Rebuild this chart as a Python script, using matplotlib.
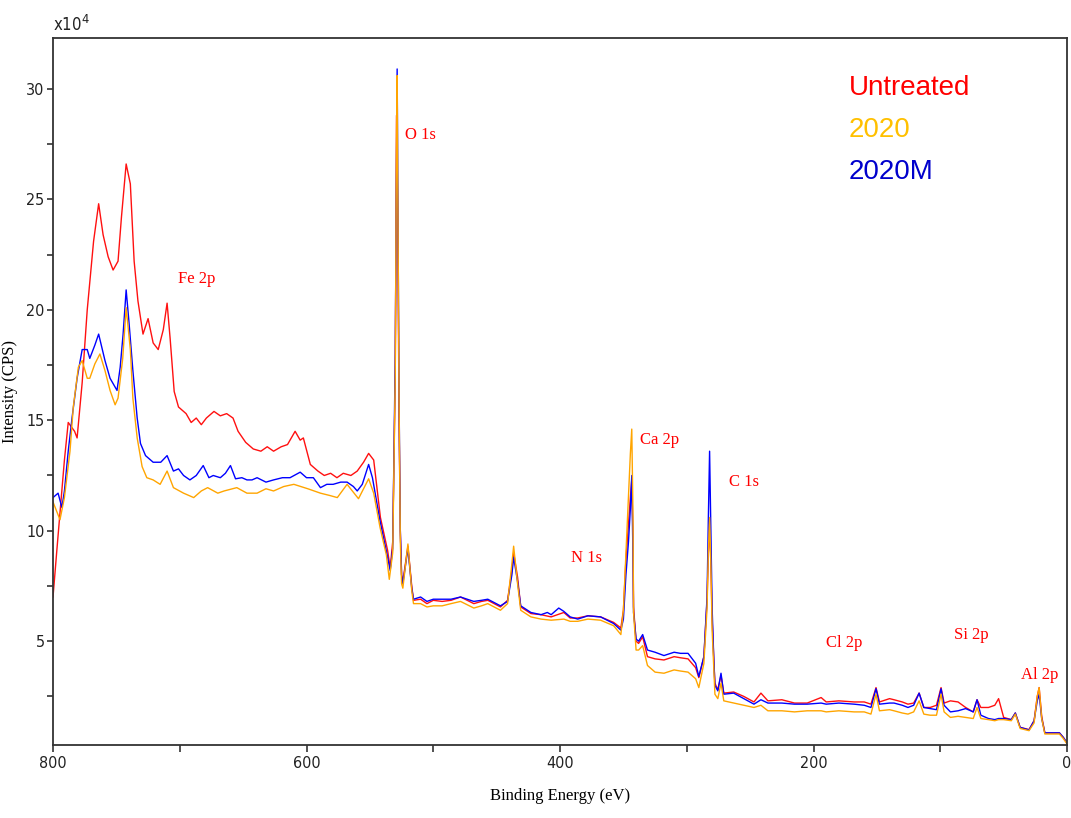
import matplotlib
matplotlib.use("Agg")
import matplotlib.pyplot as plt
from matplotlib.ticker import MultipleLocator

# XPS survey spectra, intensity in units of 1e4 CPS
be_untreated = [800, 797, 791, 788, 783, 781, 777, 773, 768, 764, 760.5, 756.5, 752.6, 748.7, 746,
                742.3, 739, 736, 733, 729, 725, 721, 717, 713, 710, 707.6, 704.4, 701, 695, 691,
                687, 683, 679, 673, 668, 663, 658, 654, 648, 642, 636, 631, 626, 620, 615, 609,
                605, 602.5, 597, 591, 586, 581, 576, 571, 565, 560, 555, 551, 547, 541.7, 536,
                534, 532, 530, 529, 528, 527, 526, 525, 524, 520, 517, 515.6, 510, 505, 500, 493,
                486, 478.5, 468, 462, 457, 447, 441.4, 438, 436.6, 433.5, 431, 423, 415, 407, 397,
                392, 386, 378, 368, 357.7, 352, 350, 348, 346, 344.5, 343.4, 342.5, 342, 340, 338,
                334.8, 331, 325, 318, 310, 305, 299, 293, 290.5, 286.5, 284, 283, 282, 281, 280,
                278.7, 277.8, 275.5, 273, 270.8, 263, 255, 247, 241.5, 236, 225, 215, 205, 194,
                190, 180, 168, 160, 154.7, 150.7, 148, 140, 136.5, 130, 125.5, 121, 116.7, 113,
                108, 103, 99.4, 97, 92, 86, 80, 74, 71, 68, 62, 57, 54, 50, 44, 40.8, 37, 30, 26,
                23.5, 22, 20, 17.5, 6, 3, 0]
cps_untreated = [7.0, 9.1, 13.2, 14.9, 14.5, 14.2, 16.7, 20.0, 23.1, 24.8, 23.4, 22.4, 21.8, 22.2, 24.2,
                 26.6, 25.7, 22.2, 20.4, 18.9, 19.6, 18.5, 18.2, 19.1, 20.3, 18.7, 16.3, 15.6, 15.3, 14.9,
                 15.1, 14.8, 15.1, 15.4, 15.2, 15.3, 15.1, 14.5, 14.0, 13.7, 13.6, 13.8, 13.6, 13.8, 13.9, 14.5,
                 14.1, 14.2, 13.0, 12.7, 12.5, 12.6, 12.4, 12.6, 12.5, 12.7, 13.1, 13.5, 13.2, 10.6, 9.1,
                 8.3, 9.5, 17.0, 28.8, 24.0, 15.0, 10.0, 8.0, 7.7, 9.3, 7.5, 6.85, 6.9, 6.7, 6.85, 6.8,
                 6.85, 7.0, 6.7, 6.8, 6.85, 6.55, 6.85, 8.2, 9.0, 7.9, 6.55, 6.25, 6.2, 6.1, 6.3,
                 6.05, 6.05, 6.15, 6.1, 5.85, 5.6, 6.4, 8.7, 10.3, 11.5, 12.3, 10.0, 6.55, 5.0, 4.9,
                 5.2, 4.3, 4.2, 4.15, 4.3, 4.25, 4.2, 3.8, 3.35, 4.3, 6.85, 9.0, 10.2, 8.5, 6.0,
                 4.2, 3.1, 2.8, 3.45, 2.65, 2.7, 2.5, 2.25, 2.65, 2.3, 2.35, 2.2, 2.2, 2.45,
                 2.25, 2.3, 2.25, 2.25, 2.15, 2.9, 2.25, 2.4, 2.35, 2.25, 2.15, 2.2, 2.65, 2.0,
                 2.0, 2.1, 2.9, 2.2, 2.3, 2.25, 2.0, 1.8, 2.35, 2.0, 2.0, 2.1, 2.4, 1.55, 1.45, 1.75, 1.1, 1.0, 1.4,
                 2.5, 2.9, 1.6, 0.85, 0.85, 0.65, 0.4]

be_2020m = [800, 796, 793, 791, 788, 785, 781, 777, 773, 771, 767, 764, 759, 755, 749.5, 747, 744.7,
            742.3, 740, 737, 733.6, 731, 727, 721, 715, 710, 705, 701, 697, 692, 687, 681.5, 677,
            673.6, 668, 664, 660, 656, 651, 647, 643, 639, 632, 626, 619, 613, 605, 600, 594.6,
            589, 584, 579, 573, 568, 563, 560, 556, 551, 548, 542, 536, 534, 532, 530, 529, 528.5,
            528, 527, 526, 525, 524, 520, 517, 515.6, 510, 505, 500, 493, 486, 478.5, 468, 462,
            457, 447, 441.4, 438, 436.6, 433.5, 431, 423, 415, 410, 407, 401, 397, 392, 386, 378,
            368, 357.7, 352, 350, 348, 346, 344.5, 343.4, 342.5, 342, 340, 338, 334.8, 331, 325,
            318, 310, 305, 299, 293, 290.5, 286.5, 284, 283, 282, 281, 280, 278.7, 277.8, 275.5,
            273, 270.8, 263, 255, 247, 241.5, 236, 225, 215, 205, 194, 190, 180, 168, 160, 154.7,
            150.7, 148, 140, 136.5, 130, 125.5, 121, 116.7, 113, 108, 103, 99.4, 97, 92, 86, 80,
            74, 71, 68, 62, 57, 54, 50, 44, 40.8, 37, 30, 26, 23.5, 22, 20, 17.5, 6, 3, 0]
cps_2020m = [11.5, 11.7, 11.05, 11.8, 13.6, 15.1, 16.9, 18.2, 18.2, 17.8, 18.4, 18.9, 17.7, 16.9, 16.35, 17.4, 18.9,
             20.9, 19.4, 17.25, 15.1, 13.95, 13.4, 13.1, 13.1, 13.4, 12.7, 12.8, 12.5, 12.3, 12.5, 12.95, 12.4,
             12.5, 12.4, 12.6, 12.95, 12.35, 12.4, 12.3, 12.3, 12.4, 12.2, 12.3, 12.4, 12.4, 12.65, 12.4, 12.4,
             11.95, 12.1, 12.1, 12.2, 12.2, 12.0, 11.8, 12.1, 13.0, 12.4, 10.45, 8.8, 8.2, 9.2, 18.0, 27.0, 30.9,
             26.0, 16.0, 10.0, 8.0, 7.6, 9.2, 7.4, 6.9, 7.0, 6.8, 6.9, 6.9, 6.9, 7.0, 6.8, 6.85,
             6.9, 6.6, 6.8, 8.0, 8.8, 7.7, 6.6, 6.3, 6.2, 6.3, 6.2, 6.5, 6.35, 6.1, 6.0, 6.15,
             6.1, 5.8, 5.5, 6.0, 8.0, 9.5, 11.0, 12.5, 9.0, 6.3, 5.1, 5.0, 5.3, 4.6, 4.5,
             4.35, 4.5, 4.45, 4.45, 4.0, 3.4, 4.3, 7.0, 10.5, 13.6, 10.0, 6.5, 4.2, 3.0, 2.75,
             3.55, 2.6, 2.65, 2.4, 2.15, 2.35, 2.2, 2.2, 2.15, 2.15, 2.2, 2.15, 2.2, 2.15, 2.1, 2.0,
             2.85, 2.15, 2.2, 2.2, 2.1, 2.0, 2.1, 2.65, 2.0, 1.95, 1.9, 2.85, 2.1, 1.8, 1.85, 1.95,
             1.8, 2.35, 1.65, 1.5, 1.45, 1.5, 1.5, 1.45, 1.75, 1.1, 0.98, 1.4, 2.3, 2.6, 1.5, 0.85, 0.85, 0.65, 0.4]

be_2020 = [800, 794.5, 791, 786.6, 784, 780, 777, 773, 771, 767, 763, 759, 755, 751, 748.7, 745, 742.3,
           739, 737, 733.6, 729.7, 726, 721, 715.5, 710, 705, 697, 689, 683, 678, 670, 665, 655,
           647, 639, 632, 626, 618, 610, 599, 589, 582, 575.7, 568, 559, 555, 551, 547, 542, 537,
           534.7, 532, 530, 529, 528.5, 528, 527, 526, 525, 524, 520, 517, 515.6, 510, 505, 500,
           493, 486, 478.5, 468, 462, 457, 447, 441.4, 438, 436.6, 433.5, 431, 423, 415, 407, 397,
           392, 386, 378, 368, 357.7, 352, 350, 348, 346, 344.5, 343.4, 342.5, 342, 340, 338,
           334.8, 331, 325, 318, 310, 305, 299, 293, 290.5, 286.5, 284, 283, 282, 281, 280, 278.7,
           277.8, 275.5, 273, 270.8, 263, 255, 247, 241.5, 236, 225, 215, 205, 194, 190, 180, 168,
           160, 154.7, 150.7, 148, 140, 136.5, 130, 125.5, 121, 116.7, 113, 108, 103, 99.4, 97, 92,
           86, 80, 74, 71, 68, 62, 57, 54, 50, 44, 40.8, 37, 30, 26, 23.5, 22, 20, 17.5, 6, 3, 0]
cps_2020 = [11.3, 10.5, 11.5, 13.6, 15.6, 17.4, 17.7, 16.9, 16.9, 17.55, 18.0, 17.25, 16.35, 15.7, 16.0, 17.8, 20.1,
            18.2, 16.0, 14.2, 12.9, 12.4, 12.3, 12.1, 12.7, 11.95, 11.7, 11.5, 11.8, 11.95, 11.7, 11.8, 11.95,
            11.7, 11.7, 11.9, 11.8, 12.0, 12.1, 11.9, 11.7, 11.6, 11.5, 12.1, 11.45, 11.9, 12.35, 11.7, 10.15, 8.9,
            7.8, 9.0, 17.0, 28.0, 30.6, 26.0, 16.0, 9.5, 7.6, 7.4, 9.4, 7.3, 6.7, 6.7, 6.55, 6.6,
            6.6, 6.7, 6.8, 6.5, 6.6, 6.7, 6.4, 6.7, 8.5, 9.3, 7.6, 6.4, 6.1, 6.0, 5.95, 6.0,
            5.9, 5.9, 6.0, 5.95, 5.7, 5.3, 6.4, 9.0, 11.5, 13.5, 14.6, 11.0, 6.3, 4.6, 4.6,
            4.8, 3.9, 3.6, 3.55, 3.7, 3.65, 3.6, 3.3, 2.9, 4.0, 6.5, 9.0, 10.6, 8.5, 5.5, 3.8,
            2.6, 2.4, 3.1, 2.3, 2.2, 2.1, 2.0, 2.1, 1.85, 1.85, 1.8, 1.85, 1.85, 1.8, 1.85, 1.8,
            1.8, 1.7, 2.6, 1.85, 1.9, 1.85, 1.75, 1.7, 1.8, 2.3, 1.7, 1.65, 1.65, 2.6, 1.8, 1.55,
            1.6, 1.55, 1.5, 2.0, 1.5, 1.45, 1.4, 1.45, 1.45, 1.4, 1.7, 1.05, 0.95, 1.3, 2.5, 2.9, 1.5, 0.8, 0.8, 0.6, 0.35]

peak_labels = ["O 1s", "Fe 2p", "N 1s", "Ca 2p", "C 1s", "Cl 2p", "Si 2p", "Al 2p"]
label_be = [522, 701.3, 391.6, 337.1, 266.8, 190.2, 89.1, 36.2]
label_cps = [27.9, 21.4, 8.75, 14.1, 12.2, 4.9, 5.3, 3.45]

series_names = ["Untreated", "2020", "2020M"]
name_colors = ["#ff0000", "#ffc000", "#0000cc"]

sans = ["Liberation Sans Narrow", "DejaVu Sans"]
serif = ["Liberation Serif", "DejaVu Serif"]

fig = plt.figure(figsize=(10.71, 8.18), dpi=100)
ax = fig.add_axes([0.0495, 0.0892, 0.9468, 0.8643])

ax.plot(be_untreated, cps_untreated, color="#ff1010", lw=1.0)
ax.plot(be_2020m, cps_2020m, color="#0000ff", lw=1.0)
ax.plot(be_2020, cps_2020, color="#ffa500", lw=1.0)

ax.set_xlim(800, 0)
ax.set_ylim(0.3, 32.3)

ax.xaxis.set_major_locator(MultipleLocator(200))
ax.xaxis.set_minor_locator(MultipleLocator(100))
ax.yaxis.set_major_locator(MultipleLocator(5))
ax.yaxis.set_minor_locator(MultipleLocator(2.5))
ax.tick_params(which="both", direction="out", color="#333333", width=1.2)
ax.tick_params(axis="x", which="both", length=5, pad=3)
ax.tick_params(axis="y", which="both", length=4, pad=2)
for lab in ax.get_xticklabels() + ax.get_yticklabels():
    lab.set_family(sans)
    lab.set_stretch("condensed")
    lab.set_fontsize(11.5)
    lab.set_color("#222222")

for sp in ax.spines.values():
    sp.set_linewidth(1.3)
    sp.set_color("#333333")

ax.set_xlabel("Binding Energy (eV)", family=serif, fontsize=12, labelpad=12)
ax.set_ylabel("Intensity (CPS)", family=serif, fontsize=12, labelpad=6)
ax.text(0.0, 1.005, r"x10$^4$", transform=ax.transAxes, family=sans, stretch="condensed",
        fontsize=12, ha="left", va="bottom", color="#222222")

for txt, bx, cy in zip(peak_labels, label_be, label_cps):
    ax.text(bx, cy, txt, color="#ff0000", family=serif, fontsize=12, ha="left", va="center")

for i, (nm, c) in enumerate(zip(series_names, name_colors)):
    ax.text(0.785, 0.93 - i * 0.06, nm, transform=ax.transAxes, color=c,
            family=["Liberation Sans", "DejaVu Sans"], fontsize=20, ha="left", va="center")

fig.savefig("out.png", dpi=100)
